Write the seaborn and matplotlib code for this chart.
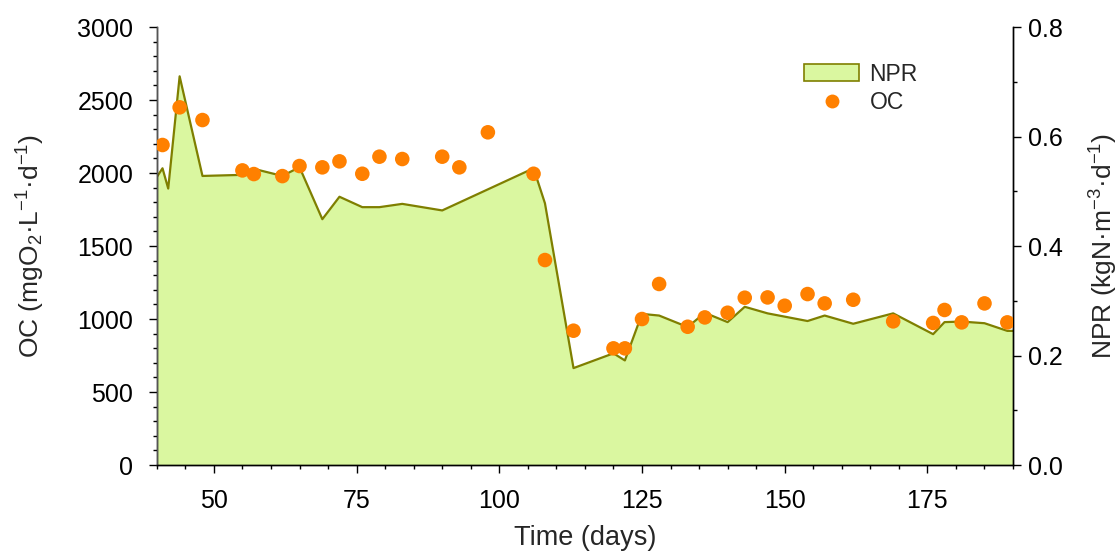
import matplotlib
matplotlib.use("Agg")
import matplotlib.pyplot as plt
import seaborn as sns
import pandas as pd
from matplotlib.patches import Patch
from matplotlib.lines import Line2D
from matplotlib.ticker import MultipleLocator, FormatStrFormatter

# OC data (left axis)
oc_days = [41, 44, 48, 55, 57, 62, 65, 69, 72, 76, 79, 83, 90, 93, 98, 106, 108,
           113, 120, 122, 125, 128, 133, 136, 140, 143, 147, 150, 154, 157, 162,
           169, 176, 178, 181, 185, 189]
oc_values = [2192, 2450, 2363, 2018, 1993, 1979, 2048, 2039, 2080, 1995, 2112, 2096,
             2112, 2039, 2279, 1995, 1404, 920, 799, 799, 1000, 1240, 947, 1011,
             1043, 1146, 1148, 1091, 1171, 1107, 1132, 984, 973, 1062, 977, 1107, 977]

# NPR data (right axis)
npr_days = [40, 41, 42, 44, 48, 55, 57, 62, 65, 69, 72, 76, 79, 83, 90, 106, 108,
            113, 120, 122, 125, 128, 133, 136, 140, 143, 147, 150, 154, 157, 162,
            169, 176, 178, 181, 185, 189, 190]
npr_values = [0.526, 0.542, 0.505, 0.710, 0.528, 0.530, 0.541, 0.528, 0.544, 0.449,
              0.490, 0.471, 0.471, 0.477, 0.465, 0.542, 0.478, 0.177, 0.204, 0.191,
              0.276, 0.273, 0.252, 0.278, 0.261, 0.289, 0.277, 0.271, 0.263, 0.273,
              0.258, 0.277, 0.239, 0.261, 0.262, 0.259, 0.245, 0.245]

oc_df = pd.DataFrame({"day": oc_days, "OC": oc_values})
npr_df = pd.DataFrame({"day": npr_days, "NPR": npr_values})

sns.set_theme(style="ticks")
plt.rcParams["font.family"] = ["Liberation Sans", "DejaVu Sans"]
plt.rcParams["mathtext.fontset"] = "custom"
plt.rcParams["mathtext.rm"] = "Liberation Sans"
plt.rcParams["mathtext.it"] = "Liberation Sans"

fill_c = "#daf7a0"
edge_c = "#7f7f00"
dot_c = "#ff8000"

fig = plt.figure(figsize=(11.2, 5.52), dpi=100)
ax = fig.add_axes([0.140, 0.1576, 0.7645, 0.7934])
ax2 = ax.twinx()

# NPR area on right axis
ax2.fill_between(npr_df["day"], npr_df["NPR"], 0, color=fill_c, linewidth=0, zorder=1)
sns.lineplot(data=npr_df, x="day", y="NPR", ax=ax2, color=edge_c, linewidth=1.6,
             zorder=2, estimator=None, sort=False)

# OC dots on left axis
sns.scatterplot(data=oc_df, x="day", y="OC", ax=ax, color=dot_c, s=110,
                edgecolor="none", zorder=5)

ax.set_zorder(ax2.get_zorder() + 1)
ax.patch.set_visible(False)

ax.set_xlim(40, 190)
ax.set_ylim(0, 3000)
ax2.set_ylim(0, 0.8)

ax.xaxis.set_major_locator(MultipleLocator(25))
ax.xaxis.set_minor_locator(MultipleLocator(5))
ax.yaxis.set_major_locator(MultipleLocator(500))
ax.yaxis.set_minor_locator(MultipleLocator(100))
ax2.yaxis.set_major_locator(MultipleLocator(0.2))
ax2.yaxis.set_minor_locator(MultipleLocator(0.1))
ax2.yaxis.set_major_formatter(FormatStrFormatter("%.1f"))

for a in (ax, ax2):
    a.tick_params(axis="both", which="major", direction="out", length=6, width=1,
                  labelsize=18, color="black", labelcolor="black", pad=5)
    a.tick_params(axis="both", which="minor", direction="out", length=3, width=1,
                  color="black")
    a.spines["top"].set_visible(False)
    for s in a.spines.values():
        s.set_color("black")
        s.set_linewidth(1)
ax.tick_params(axis="x", which="major", pad=11)
ax.tick_params(axis="y", which="major", pad=11)
ax.spines["left"].set_color("#555555")
ax.set_xticks([50, 75, 100, 125, 150, 175])

ax.set_xlabel("Time (days)", fontsize=19.5, labelpad=9)
ax.set_ylabel("OC (mgO$_\\mathregular{2}$·L$^\\mathregular{-1}$·d$^\\mathregular{-1}$)",
              fontsize=19, labelpad=22)
ax2.set_ylabel("NPR (kgN·m$^\\mathregular{-3}$·d$^\\mathregular{-1}$)",
               fontsize=19, labelpad=18)

handles = [Patch(facecolor=fill_c, edgecolor=edge_c, linewidth=1.2, label="NPR"),
           Line2D([], [], marker="o", linestyle="none", color=dot_c,
                  markeredgecolor="none", markersize=10, label="OC")]
ax.legend(handles=handles, loc="upper left", bbox_to_anchor=(0.732, 0.966),
          frameon=False, fontsize=16.5, handlelength=2.4, handleheight=0.8,
          labelspacing=0.25, handletextpad=0.45)

fig.savefig("out.png", dpi=100)
